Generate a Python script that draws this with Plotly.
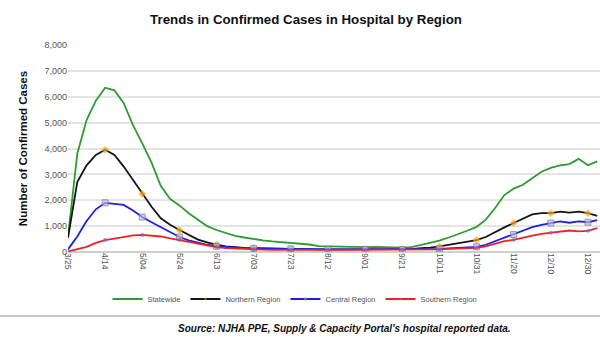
import datetime as dt
import plotly.graph_objects as go

# Days since 3/25/2020, sampled every 5 days
days = list(range(0, 290, 5))
dates = [dt.date(2020, 3, 25) + dt.timedelta(days=d) for d in days]

statewide = [600, 3800, 5100, 5850, 6350, 6250, 5750, 4900, 4200, 3450,
             2550, 2050, 1800, 1500, 1250, 1000, 850, 730, 620, 560,
             500, 450, 410, 380, 350, 330, 290, 230, 220, 220,
             210, 200, 190, 200, 190, 180, 170, 190, 280, 350,
             440, 560, 680, 820, 970, 1250, 1700, 2200, 2450, 2600,
             2850, 3100, 3250, 3350, 3400, 3600, 3350, 3500]
northern = [550, 2700, 3350, 3750, 3950, 3750, 3300, 2800, 2250, 1750,
            1300, 1050, 850, 650, 480, 370, 280, 220, 180, 160,
            150, 140, 130, 120, 120, 110, 110, 100, 100, 100,
            100, 100, 100, 100, 100, 100, 100, 110, 150, 170,
            220, 280, 330, 390, 460, 580, 780, 950, 1120, 1300,
            1450, 1500, 1500, 1560, 1520, 1560, 1500, 1400]
central = [100, 600, 1200, 1650, 1900, 1850, 1820, 1600, 1350, 1150,
           950, 750, 580, 450, 350, 280, 220, 190, 170, 150,
           140, 130, 130, 120, 120, 110, 110, 100, 100, 100,
           100, 100, 100, 100, 100, 100, 100, 100, 100, 110,
           120, 140, 160, 180, 200, 280, 420, 560, 680, 820,
           960, 1050, 1120, 1180, 1130, 1180, 1150, 1230]
southern = [20, 100, 200, 350, 460, 520, 580, 640, 660, 640,
            600, 530, 460, 400, 320, 250, 190, 150, 130, 110,
            100, 90, 85, 80, 80, 80, 80, 80, 80, 80,
            80, 80, 80, 80, 80, 80, 80, 80, 80, 90,
            100, 120, 130, 140, 160, 220, 330, 420, 470, 560,
            630, 700, 740, 780, 830, 800, 820, 920]

series_names = ["Statewide", "Northern Region", "Central Region", "Southern Region"]
tick_dates = [dt.date(2020, 3, 25) + dt.timedelta(days=20 * i) for i in range(15)]
tick_labels = [f"{d.month}/{d.day:02d}" for d in tick_dates]

# markers every 20 days (skip the first point)
mk = [6 if (i % 4 == 0 and i > 0) else 0 for i in range(len(days))]
mk_small = [4 if (i % 4 == 0 and i > 0) else 0 for i in range(len(days))]

fig = go.Figure()
fig.add_trace(go.Scatter(x=dates, y=statewide, name=series_names[0], mode="lines",
                         line=dict(color="#2f9a32", width=1.8)))
fig.add_trace(go.Scatter(x=dates, y=northern, name=series_names[1], mode="lines+markers",
                         line=dict(color="#151515", width=1.8),
                         marker=dict(size=mk, color="#f2a81d", symbol="diamond", line=dict(width=0))))
fig.add_trace(go.Scatter(x=dates, y=central, name=series_names[2], mode="lines+markers",
                         line=dict(color="#1f1fe0", width=1.8),
                         marker=dict(size=mk, color="#b8b8e8", symbol="square",
                                     line=dict(color="#777777", width=1))))
fig.add_trace(go.Scatter(x=dates, y=southern, name=series_names[3], mode="lines+markers",
                         line=dict(color="#ee2226", width=1.8),
                         marker=dict(size=mk_small, color="#7a6ad8", line=dict(width=0))))

L, T, B = 68, 45, 106
PW, PH = 600 - L, 358 - T - B  # plot area size in px

fig.update_layout(
    width=600, height=358,
    margin=dict(l=L, r=0, t=T, b=B, autoexpand=False),
    paper_bgcolor="white", plot_bgcolor="white",
    font=dict(family="Arial, Liberation Sans, sans-serif", color="#444"),
    title=dict(text="<b>Trends in Confirmed Cases in Hospital by Region</b>",
               xref="container", x=306 / 600, xanchor="center",
               yref="container", y=1 - 19 / 358, yanchor="middle",
               font=dict(size=13.3, color="#111")),
    showlegend=True,
    legend=dict(orientation="h", xref="container", x=295 / 600, xanchor="center",
                yref="container", y=1 - 299 / 358, yanchor="middle",
                font=dict(size=7.5, color="#555"), itemwidth=30, traceorder="normal"),
    xaxis=dict(range=[dt.date(2020, 3, 25), dt.datetime(2021, 1, 5, 12)],
               tickvals=tick_dates, ticktext=tick_labels, tickangle=90,
               tickfont=dict(size=8.5, color="#555"), showgrid=False,
               showline=False, zeroline=False, ticks="", automargin=False,
               ticklabeloverflow="allow"),
    yaxis=dict(range=[0, 8000], tickvals=list(range(0, 8001, 1000)), tickformat=",d",
               tickfont=dict(size=9, color="#555"), gridcolor="#e4e4e4", gridwidth=1.5,
               zeroline=True, zerolinecolor="#d0d0d0", zerolinewidth=1.5, automargin=False,
               title=dict(text="<b>Number of Confirmed Cases</b>", standoff=14,
                          font=dict(size=11.5, color="#111"))),
    shapes=[dict(type="line", xref="paper", yref="paper", x0=-L / PW, x1=1,
                 y0=-(316 - 252) / PH, y1=-(316 - 252) / PH,
                 line=dict(color="#c8c8c8", width=2))],
    annotations=[dict(text="<b><i>Source: NJHA PPE, Supply &amp; Capacity Portal's hospital reported data.</i></b>",
                      xref="paper", yref="paper", x=(344 - L) / PW, y=-(328 - 252) / PH,
                      xanchor="center", yanchor="middle", showarrow=False,
                      font=dict(size=10, color="#111"))],
)

fig.write_html("out.html",
               config={"displayModeBar": False},
               post_script="document.body.style.margin='0';document.body.style.overflow='hidden';")
